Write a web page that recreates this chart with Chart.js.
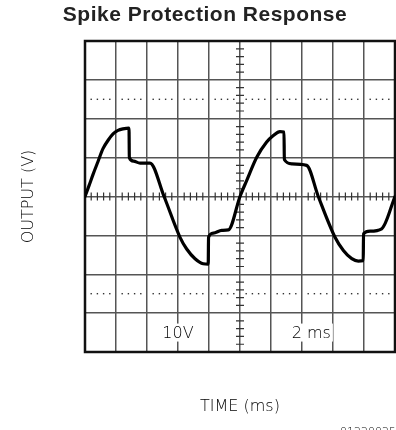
<!DOCTYPE html>
<html>
<head>
<meta charset="utf-8">
<script src="https://cdn.jsdelivr.net/npm/chart.js@4/dist/chart.umd.min.js"></script>
<style>
  body { margin: 0; background: #fff; }
  canvas { display: block; }
</style>
</head>
<body>
<canvas id="chart" width="396" height="430"></canvas>
<script>
// values (time in ms, output in V)
const timeMs = [
  0, 0.26, 0.52, 0.84, 1.16, 1.48, 1.81, 2.13, 2.45, 2.84,
  2.86, 3.13, 3.55, 4.19, 5.10, 6.13, 6.56, 7.10, 7.63, 7.95,
  7.97, 8.28, 8.82, 9.25, 10.0,
  10.43, 11.08, 11.72, 12.15, 12.58, 12.84,
  12.86, 13.34, 14.30, 15.05, 16.13, 16.67, 17.21, 17.63, 17.95,
  17.97, 18.39, 19.14, 20.0
];
const outputV = [
  0, 2.8, 5.7, 9.0, 12.3, 14.4, 16.1, 17.0, 17.4, 17.6,
  10.0, 9.1, 8.6, 8.6, 0, -10.5, -13.5, -16.0, -17.3, -17.4,
  -10.5, -9.4, -8.7, -8.6, 0,
  4.1, 10.1, 14.0, 15.7, 16.7, 16.6,
  9.5, 8.4, 8.0, 0, -10.5, -13.9, -16.0, -16.6, -16.5,
  -9.6, -8.9, -8.3, 0
];

// axis ranges and divisions
const timeRange = [0, 20];
const timeStep = 2;
const voltRange = [-40, 40];
const voltStep = 10;
const dottedLevels = [25, -25];

// labels
const chartTitle = 'Spike Protection Response';
const xTitle = 'TIME (ms)';
const yTitle = 'OUTPUT (V)';
const notes = [
  { text: '10V', t: 6, v: -35 },
  { text: '2 ms', t: 14.6, v: -35 }
];
const figureCode = '01220025';

// minor divisions (5 per major division)
const minorTime = [];
for (let i = 1; i < 50; i++) {
  if (i % 5 !== 0) minorTime.push(i * timeStep / 5);
}
const minorVolt = [];
for (let i = -19; i < 20; i++) {
  if (i % 5 !== 0) minorVolt.push(i * voltStep / 5);
}

const points = timeMs.map((t, i) => ({ x: t, y: outputV[i] }));

const labelFont = '200 16px "DejaVu Sans", sans-serif';

const scopeMarks = {
  id: 'scopeMarks',
  beforeDatasetsDraw(chart) {
    const { ctx, chartArea: a, scales: { x, y } } = chart;
    const x0 = x.getPixelForValue(10);
    const y0 = y.getPixelForValue(0);
    ctx.save();
    ctx.strokeStyle = '#333';
    ctx.lineWidth = 1.2;
    ctx.beginPath();
    minorTime.forEach(t => {
      const px = x.getPixelForValue(t);
      ctx.moveTo(px, y0 - 4);
      ctx.lineTo(px, y0 + 4);
    });
    minorVolt.forEach(v => {
      const py = y.getPixelForValue(v);
      ctx.moveTo(x0 - 4, py);
      ctx.lineTo(x0 + 4, py);
    });
    ctx.stroke();

    ctx.fillStyle = '#333';
    dottedLevels.forEach(v => {
      const py = y.getPixelForValue(v);
      minorTime.forEach(t => {
        const px = x.getPixelForValue(t);
        ctx.fillRect(px - 0.7, py - 0.7, 1.4, 1.4);
      });
    });

    ctx.strokeStyle = '#111';
    ctx.lineWidth = 2.5;
    ctx.strokeRect(a.left, a.top, a.right - a.left, a.bottom - a.top);
    ctx.restore();
  },
  afterDraw(chart) {
    const { ctx, chartArea: a, scales: { x, y } } = chart;
    ctx.save();
    ctx.fillStyle = '#222';

    ctx.font = 'bold 21px "Liberation Sans", Arial, sans-serif';
    ctx.letterSpacing = '0.5px';
    ctx.textAlign = 'center';
    ctx.textBaseline = 'alphabetic';
    ctx.fillText(chartTitle, 205, 21);
    ctx.letterSpacing = '0px';

    ctx.font = labelFont;
    notes.forEach(n => {
      const px = x.getPixelForValue(n.t);
      const py = y.getPixelForValue(n.v);
      const w = ctx.measureText(n.text).width;
      ctx.fillStyle = '#fff';
      ctx.fillRect(px - w / 2 - 2, py - 9, w + 4, 18);
      ctx.fillStyle = '#000';
      ctx.textBaseline = 'middle';
      ctx.fillText(n.text, px, py + 1);
    });

    ctx.fillStyle = '#000';
    ctx.textBaseline = 'alphabetic';
    ctx.fillText(xTitle, (a.left + a.right) / 2, 411);

    ctx.save();
    ctx.translate(33, (a.top + a.bottom) / 2);
    ctx.rotate(-Math.PI / 2);
    ctx.fillText(yTitle, 0, 0);
    ctx.restore();

    ctx.font = '200 11px "DejaVu Sans", sans-serif';
    ctx.textAlign = 'left';
    ctx.fillText(figureCode, 340, 435);
    ctx.restore();
  }
};

const ctx = document.getElementById('chart').getContext('2d');

new Chart(ctx, {
  type: 'scatter',
  data: {
    datasets: [{
      data: points,
      showLine: true,
      borderColor: '#000',
      borderWidth: 3.2,
      borderJoinStyle: 'round',
      borderCapStyle: 'round',
      pointRadius: 0,
      cubicInterpolationMode: 'monotone'
    }]
  },
  options: {
    responsive: false,
    animation: false,
    layout: { padding: { left: 85, top: 41, right: 1, bottom: 78 } },
    plugins: {
      legend: { display: false },
      title: { display: false },
      tooltip: { enabled: false }
    },
    scales: {
      x: {
        type: 'linear',
        min: timeRange[0],
        max: timeRange[1],
        ticks: { stepSize: timeStep, display: false },
        grid: { color: '#555', lineWidth: 1.5, drawTicks: false, tickLength: 0 },
        border: { display: false },
        afterFit: s => { s.height = 0; }
      },
      y: {
        min: voltRange[0],
        max: voltRange[1],
        ticks: { stepSize: voltStep, display: false },
        grid: { color: '#555', lineWidth: 1.5, drawTicks: false, tickLength: 0 },
        border: { display: false },
        afterFit: s => { s.width = 0; }
      }
    }
  },
  plugins: [scopeMarks]
});
</script>
</body>
</html>
